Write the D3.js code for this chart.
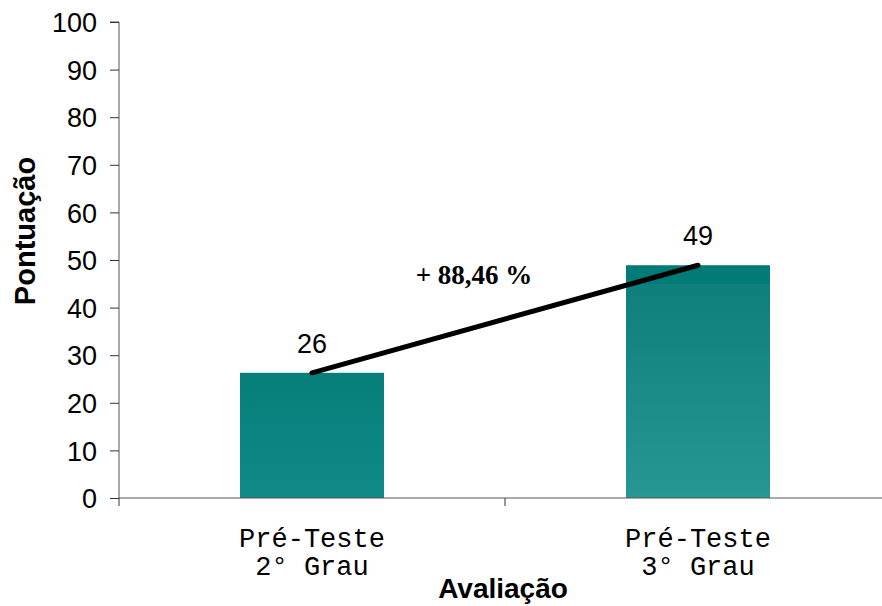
<!DOCTYPE html>
<html><head><meta charset="utf-8">
<script src="https://cdn.jsdelivr.net/npm/d3@7"></script>
<style>body{margin:0;background:#fff}svg{display:block}</style>
</head><body>
<script>
const categories = [["Pré-Teste","2° Grau"],["Pré-Teste","3° Grau"]];
const values = [26.3, 48.9];
const valueLabels = ["26","49"];
const yTicks = [0,10,20,30,40,50,60,70,80,90,100];
const growthLabel = "+ 88,46 %";

const W = 882, H = 606;
const m = {left:119, top:22, bottom:498, right:891};
const svg = d3.select("body").append("svg").attr("width",W).attr("height",H);

const x = d3.scaleBand().domain(d3.range(categories.length)).range([m.left, m.right]).paddingInner(0).paddingOuter(0);
const y = d3.scaleLinear().domain([0,100]).range([m.bottom, m.top]);

const defs = svg.append("defs");
const g1 = defs.append("linearGradient").attr("id","g0").attr("x1",0).attr("y1",0).attr("x2",0).attr("y2",1);
g1.append("stop").attr("offset","0%").attr("stop-color","#067f7b");
g1.append("stop").attr("offset","100%").attr("stop-color","#108a86");
const g2 = defs.append("linearGradient").attr("id","g1").attr("x1",0).attr("y1",0).attr("x2",0).attr("y2",1);
g2.append("stop").attr("offset","0%").attr("stop-color","#007b78");
g2.append("stop").attr("offset","8%").attr("stop-color","#007b78");
g2.append("stop").attr("offset","8.1%").attr("stop-color","#0f7f7c");
g2.append("stop").attr("offset","100%").attr("stop-color","#269793");

const sans = "Arial, 'Liberation Sans', sans-serif";
const bw = 144;
svg.selectAll("rect.bar").data(values).enter().append("rect")
  .attr("x",(d,i)=>x(i)+x.bandwidth()/2-bw/2)
  .attr("y",d=>y(d)).attr("width",bw).attr("height",d=>y(0)-y(d))
  .attr("fill",(d,i)=>`url(#g${i})`);

// axes
const yAxis = d3.axisLeft(y).tickValues(yTicks).tickSize(9).tickPadding(13);
const ya = svg.append("g").attr("transform",`translate(${m.left},0)`).call(yAxis);
ya.attr("font-size",null).attr("font-family",null);
ya.select(".domain").attr("stroke","#555").attr("d",`M-9,${m.top}H0V${m.bottom}`);
ya.selectAll(".tick line").attr("stroke","#333");
ya.selectAll("text").style("font-family",sans).style("font-size","27px").attr("fill","#000").attr("dy","0.36em");

const xa = svg.append("g");
xa.append("line").attr("x1",m.left).attr("x2",m.right).attr("y1",y(0)).attr("y2",y(0)).attr("stroke","#555");
[0,1,2].forEach(i=>{
  const xx = m.left + i*x.bandwidth();
  xa.append("line").attr("x1",xx).attr("x2",xx).attr("y1",y(0)).attr("y2",y(0)+8).attr("stroke","#333");
});
categories.forEach((c,i)=>{
  const t = svg.append("text").attr("text-anchor","middle").style("font-family","'Courier New','Liberation Mono',monospace").style("font-size","27px").attr("fill","#000");
  c.forEach((line,j)=>t.append("tspan").attr("x",x(i)+x.bandwidth()/2).attr("y",547+j*28).text(line));
});

// value labels
svg.selectAll("text.val").data(values).enter().append("text")
  .attr("x",(d,i)=>x(i)+x.bandwidth()/2).attr("y",d=>y(d)-20)
  .attr("text-anchor","middle").style("font-family",sans).style("font-size","27px")
  .text((d,i)=>valueLabels[i]);

// growth line
svg.append("line")
  .attr("x1",x(0)+x.bandwidth()/2).attr("y1",y(values[0]))
  .attr("x2",x(1)+x.bandwidth()/2).attr("y2",y(values[1]))
  .attr("stroke","#000").attr("stroke-width",5).attr("stroke-linecap","round");

svg.append("text").attr("x",474).attr("y",284).attr("text-anchor","middle")
  .style("font-family","'Times New Roman','Liberation Serif',serif").style("font-weight","bold").style("font-size","27px")
  .text(growthLabel);

// axis titles
svg.append("text").attr("x",503).attr("y",598).attr("text-anchor","middle")
  .style("font-family",sans).style("font-weight","bold").style("font-size","28px").text("Avaliação");
svg.append("text").attr("transform","translate(35,231) rotate(-90)").attr("text-anchor","middle")
  .style("font-family",sans).style("font-weight","bold").style("font-size","29px").text("Pontuação");
</script>
</body></html>
